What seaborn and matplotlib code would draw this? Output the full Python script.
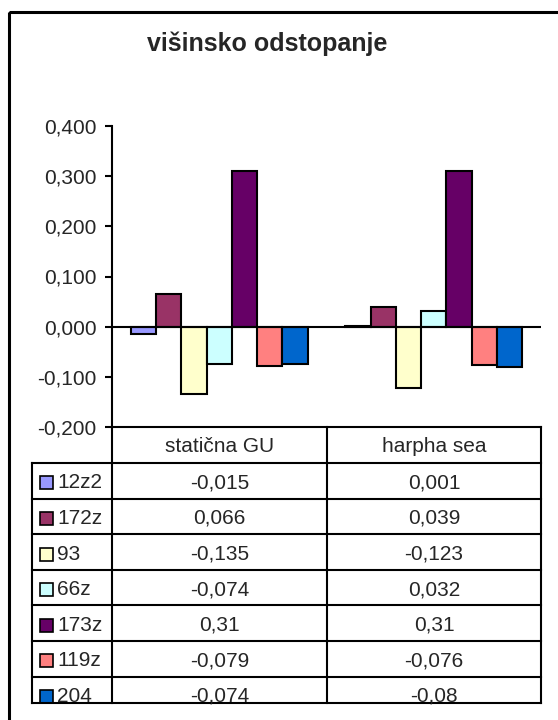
import matplotlib
matplotlib.use("Agg")
import matplotlib.pyplot as plt
from matplotlib.patches import Rectangle
from matplotlib.lines import Line2D
from matplotlib.ticker import FuncFormatter
import seaborn as sns
import pandas as pd

categories = ["statična GU", "harpha sea"]
series = ["12z2", "172z", "93", "66z", "173z", "119z", "204"]
values_gu = [-0.015, 0.066, -0.135, -0.074, 0.31, -0.079, -0.074]
values_hs = [0.001, 0.039, -0.123, 0.032, 0.31, -0.076, -0.08]
labels_gu = ["-0,015", "0,066", "-0,135", "-0,074", "0,31", "-0,079", "-0,074"]
labels_hs = ["0,001", "0,039", "-0,123", "0,032", "0,31", "-0,076", "-0,08"]
colors = ["#9999FF", "#993366", "#FFFFCC", "#CCFFFF", "#660066", "#FF8080", "#0066CC"]
title = "višinsko odstopanje"

sns.set_style("white")
plt.rcParams["font.family"] = ["Liberation Sans", "DejaVu Sans"]

rows = []
for s, a, b in zip(series, values_gu, values_hs):
    rows.append({"cat": categories[0], "series": s, "value": a})
    rows.append({"cat": categories[1], "series": s, "value": b})
df = pd.DataFrame(rows)

W, H = 558, 720
fig = plt.figure(figsize=(W / 100, H / 100), dpi=100)

def fx(px):
    return px / W

def fy(py):
    return 1 - py / H

x0, x1 = 112, 541
ytop, ybot = 126, 427
ax = fig.add_axes([fx(x0), fy(ybot), fx(x1 - x0), (ybot - ytop) / H])
sns.barplot(data=df, x="cat", y="value", hue="series", hue_order=series,
            order=categories, palette=colors, saturation=1, width=0.823,
            edgecolor="black", linewidth=1.5, legend=False, ax=ax, zorder=3)
ax.set_ylim(-0.2, 0.4)
ax.set_xlim(-0.5, 1.5)
ax.set_yticks([-0.2, -0.1, 0.0, 0.1, 0.2, 0.3, 0.4])
ax.yaxis.set_major_formatter(FuncFormatter(lambda v, p: f"{v:.3f}".replace(".", ",").replace("-0,000", "0,000")))
ax.set_xticks([])
ax.set_xlabel("")
ax.set_ylabel("")
for s in ["top", "right", "bottom"]:
    ax.spines[s].set_visible(False)
ax.spines["left"].set_linewidth(1.5)
ax.spines["left"].set_color("black")
ax.tick_params(axis="y", direction="out", length=5, width=1.5, color="black",
               labelsize=15, pad=6, left=True)
ax.axhline(0, color="black", lw=1.5, zorder=4)
ax.patch.set_alpha(0)

# overlay for title, table, border
ov = fig.add_axes([0, 0, 1, 1])
ov.set_xlim(0, W)
ov.set_ylim(H, 0)
ov.axis("off")
ov.patch.set_alpha(0)

ov.add_patch(Rectangle((9, 11.5), 600, 800, fill=False, lw=2.2, ec="black"))
ov.text(267, 51, title, ha="center", va="baseline", fontsize=18, fontweight="bold")

lw = 1.5
tl = 32
cmid = 327
row_h = 35.6
hdr_top = 427
hdr_bot = 463
tab_bot = 703
fs = 15

def hline(y, xa, xb):
    ov.add_line(Line2D([xa, xb], [y, y], color="black", lw=lw, solid_capstyle="projecting"))

def vline(x, ya, yb):
    ov.add_line(Line2D([x, x], [ya, yb], color="black", lw=lw, solid_capstyle="projecting"))

hline(hdr_top, x0, x1)
for i in range(len(series)):
    hline(hdr_bot + i * row_h, tl, x1)
hline(tab_bot, tl, x1)
vline(tl, hdr_bot, tab_bot)
vline(x0, hdr_top, tab_bot)
vline(cmid, hdr_top, tab_bot)
vline(x1, hdr_top, tab_bot)

ov.text((x0 + cmid) / 2, (hdr_top + hdr_bot) / 2 + 1, categories[0], ha="center", va="center", fontsize=fs)
ov.text((cmid + x1) / 2, (hdr_top + hdr_bot) / 2 + 1, categories[1], ha="center", va="center", fontsize=fs)

clip = Rectangle((tl, hdr_bot), x1 - tl, tab_bot - hdr_bot, transform=ov.transData)
for i, (s, c, a, b) in enumerate(zip(series, colors, labels_gu, labels_hs)):
    cy = hdr_bot + i * row_h + row_h / 2 + 2
    key = Rectangle((39.5, cy - 6.5), 13, 13, fc=c, ec="black", lw=1.2)
    ov.add_patch(key)
    key.set_clip_path(clip)
    t1 = ov.text(57, cy, s, ha="left", va="center", fontsize=fs)
    t2 = ov.text((x0 + cmid) / 2, cy, a, ha="center", va="center", fontsize=fs)
    t3 = ov.text((cmid + x1) / 2, cy, b, ha="center", va="center", fontsize=fs)
    for t in (t1, t2, t3):
        t.set_clip_path(clip)

fig.savefig("out.png", dpi=100)
